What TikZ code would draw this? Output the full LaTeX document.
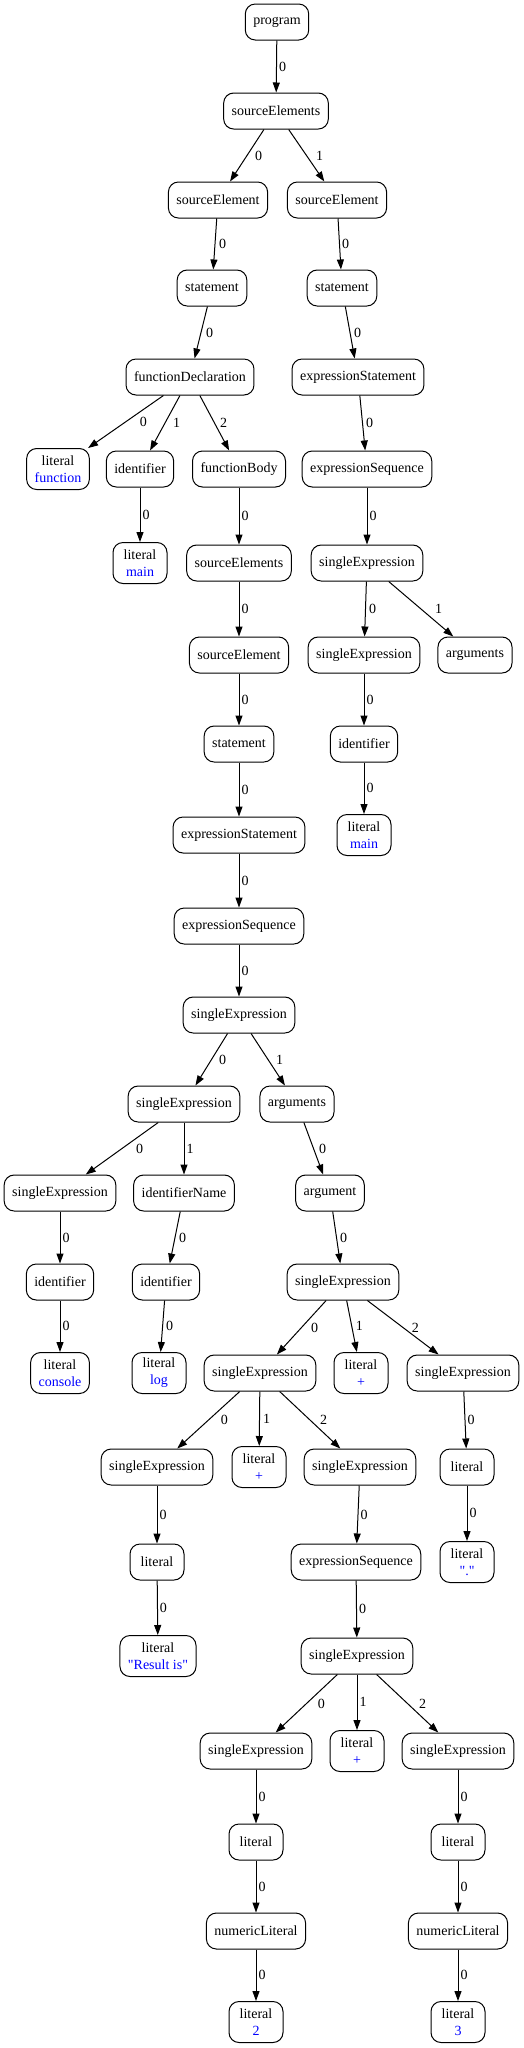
\documentclass[tikz,border=0pt]{standalone}
\usepackage{fontspec}
\setmainfont{Liberation Serif}[Ligatures=TeXOff]
\usetikzlibrary{arrows.meta}
\tikzstyle{RuleNode}=[rectangle, rounded corners=10pt, draw=black, line width=1pt, inner xsep=8pt, inner ysep=3pt, minimum height=36pt, minimum width=54pt, align=center, font=\fontsize{14}{17}\selectfont]
\tikzstyle{LitNode}=[RuleNode, minimum height=41pt]
\tikzstyle{ChildEdge}=[->, line width=1pt]
\tikzset{>={Triangle[length=10pt,width=7pt]}}
\tikzset{EdgeLabel/.style={anchor=west, inner sep=0pt, font=\fontsize{14}{17}\selectfont, xshift=#1}, EdgeLabel/.default=2pt}
\newcommand{\litval}[1]{literal\\\textcolor{blue}{#1}}

\begin{document}
\begin{tikzpicture}[x=1pt, y=-1pt]
\useasboundingbox (0,0) rectangle (523,2048);

\node[RuleNode](P) at (277,22) {program};
\node[RuleNode](SEs) at (276,111) {sourceElements};
\node[RuleNode](SE1) at (218,200) {sourceElement};
\node[RuleNode](SE2) at (337,200) {sourceElement};
\node[RuleNode](St1) at (212,288) {statement};
\node[RuleNode](St2) at (342,288) {statement};
\node[RuleNode](FD) at (190,377) {functionDeclaration};
\node[RuleNode](ES2) at (358,377) {expressionStatement};
\node[LitNode](LitFn) at (58,469) {\litval{function}};
\node[RuleNode](IdMain) at (140,469) {identifier};
\node[RuleNode](FB) at (239,469) {functionBody};
\node[RuleNode](EQ2) at (367,469) {expressionSequence};
\node[LitNode](LitMain1) at (140,563) {\litval{main}};
\node[RuleNode](SEs2) at (239,563) {sourceElements};
\node[RuleNode](SX1) at (367,563) {singleExpression};
\node[RuleNode](SE3) at (239,655) {sourceElement};
\node[RuleNode](SX2) at (364,655) {singleExpression};
\node[RuleNode](Args1) at (475,655) {arguments};
\node[RuleNode](St3) at (239,744) {statement};
\node[RuleNode](IdMain2) at (364,744) {identifier};
\node[RuleNode](ES3) at (239,835) {expressionStatement};
\node[LitNode](LitMain2) at (364,835) {\litval{main}};
\node[RuleNode](EQ3) at (239,926) {expressionSequence};
\node[RuleNode](SX3) at (239,1015) {singleExpression};
\node[RuleNode](SX4) at (184,1104) {singleExpression};
\node[RuleNode](Args2) at (297,1104) {arguments};
\node[RuleNode](SX5) at (60,1193) {singleExpression};
\node[RuleNode](IdName) at (184,1193) {identifierName};
\node[RuleNode](Arg) at (330,1193) {argument};
\node[RuleNode](IdCon) at (60,1282) {identifier};
\node[RuleNode](IdLog) at (166,1282) {identifier};
\node[RuleNode](SX6) at (343,1282) {singleExpression};
\node[LitNode](LitCon) at (60,1373) {\litval{console}};
\node[LitNode](LitLog) at (159,1373) {\litval{log}};
\node[RuleNode](SX7) at (260,1373) {singleExpression};
\node[LitNode](Plus1) at (361,1373) {\litval{+}};
\node[RuleNode](SX8) at (463,1373) {singleExpression};
\node[RuleNode](SX9) at (157,1467) {singleExpression};
\node[LitNode](Plus2) at (259,1467) {\litval{+}};
\node[RuleNode](SX10) at (360,1467) {singleExpression};
\node[RuleNode](LitDot1) at (467,1467) {literal};
\node[RuleNode](LitRes1) at (157,1562) {literal};
\node[RuleNode](EQ4) at (356,1562) {expressionSequence};
\node[LitNode](LitDot2) at (467,1562) {\litval{"."}};
\node[LitNode](LitRes2) at (158,1656) {\litval{"Result is"}};
\node[RuleNode](SX11) at (357,1656) {singleExpression};
\node[RuleNode](SX12) at (256,1751) {singleExpression};
\node[LitNode](Plus3) at (357,1751) {\litval{+}};
\node[RuleNode](SX13) at (458,1751) {singleExpression};
\node[RuleNode](LitTwo1) at (256,1842) {literal};
\node[RuleNode](LitThree1) at (458,1842) {literal};
\node[RuleNode](Num2) at (256,1931) {numericLiteral};
\node[RuleNode](Num3) at (458,1931) {numericLiteral};
\node[LitNode](LitTwo2) at (256,2022) {\litval{2}};
\node[LitNode](LitThree2) at (458,2022) {\litval{3}};

\draw[ChildEdge](P) -- node[EdgeLabel]{0} (SEs);
\draw[ChildEdge](SEs) -- node[EdgeLabel=7.5pt]{0} (SE1);
\draw[ChildEdge](SEs) -- node[EdgeLabel=9pt]{1} (SE2);
\draw[ChildEdge](SE1) -- node[EdgeLabel=3.5pt]{0} (St1);
\draw[ChildEdge](SE2) -- node[EdgeLabel]{0} (St2);
\draw[ChildEdge](St1) -- node[EdgeLabel=4.5pt]{0} (FD);
\draw[ChildEdge](St2) -- node[EdgeLabel=3.5pt]{0} (ES2);
\draw[ChildEdge](FD) -- node[EdgeLabel=13.5pt]{0} (LitFn);
\draw[ChildEdge](FD) -- node[EdgeLabel=7.5pt]{1} (IdMain);
\draw[ChildEdge](FD) -- node[EdgeLabel=5pt]{2} (FB);
\draw[ChildEdge](ES2) -- node[EdgeLabel=3pt]{0} (EQ2);
\draw[ChildEdge](IdMain) -- node[EdgeLabel]{0} (LitMain1);
\draw[ChildEdge](FB) -- node[EdgeLabel]{0} (SEs2);
\draw[ChildEdge](EQ2) -- node[EdgeLabel]{0} (SX1);
\draw[ChildEdge](SEs2) -- node[EdgeLabel]{0} (SE3);
\draw[ChildEdge](SX1) -- node[EdgeLabel=3pt]{0} (SX2);
\draw[ChildEdge](SX1) -- node[EdgeLabel=13.5pt]{1} (Args1);
\draw[ChildEdge](SE3) -- node[EdgeLabel]{0} (St3);
\draw[ChildEdge](SX2) -- node[EdgeLabel]{0} (IdMain2);
\draw[ChildEdge](St3) -- node[EdgeLabel]{0} (ES3);
\draw[ChildEdge](IdMain2) -- node[EdgeLabel]{0} (LitMain2);
\draw[ChildEdge](ES3) -- node[EdgeLabel]{0} (EQ3);
\draw[ChildEdge](EQ3) -- node[EdgeLabel]{0} (SX3);
\draw[ChildEdge](SX3) -- node[EdgeLabel=7pt]{0} (SX4);
\draw[ChildEdge](SX3) -- node[EdgeLabel=7.5pt]{1} (Args2);
\draw[ChildEdge](SX4) -- node[EdgeLabel=13.5pt]{0} (SX5);
\draw[ChildEdge](SX4) -- node[EdgeLabel]{1} (IdName);
\draw[ChildEdge](Args2) -- node[EdgeLabel=5pt]{0} (Arg);
\draw[ChildEdge](SX5) -- node[EdgeLabel]{0} (IdCon);
\draw[ChildEdge](IdName) -- node[EdgeLabel=3.5pt]{0} (IdLog);
\draw[ChildEdge](Arg) -- node[EdgeLabel=3pt]{0} (SX6);
\draw[ChildEdge](IdCon) -- node[EdgeLabel]{0} (LitCon);
\draw[ChildEdge](IdLog) -- node[EdgeLabel=3pt]{0} (LitLog);
\draw[ChildEdge](SX6) -- node[EdgeLabel=9pt]{0} (SX7);
\draw[ChildEdge](SX6) -- node[EdgeLabel=3.5pt]{1} (Plus1);
\draw[ChildEdge](SX6) -- node[EdgeLabel=8.5pt]{2} (SX8);
\draw[ChildEdge](SX7) -- node[EdgeLabel=12pt]{0} (SX9);
\draw[ChildEdge](SX7) -- node[EdgeLabel=3pt]{1} (Plus2);
\draw[ChildEdge](SX7) -- node[EdgeLabel=9.5pt]{2} (SX10);
\draw[ChildEdge](SX8) -- node[EdgeLabel]{0} (LitDot1);
\draw[ChildEdge](SX9) -- node[EdgeLabel]{0} (LitRes1);
\draw[ChildEdge](SX10) -- node[EdgeLabel]{0} (EQ4);
\draw[ChildEdge](LitDot1) -- node[EdgeLabel]{0} (LitDot2);
\draw[ChildEdge](LitRes1) -- node[EdgeLabel]{0} (LitRes2);
\draw[ChildEdge](EQ4) -- node[EdgeLabel]{0} (SX11);
\draw[ChildEdge](SX11) -- node[EdgeLabel=11pt]{0} (SX12);
\draw[ChildEdge](SX11) -- node[EdgeLabel]{1} (Plus3);
\draw[ChildEdge](SX11) -- node[EdgeLabel=11pt]{2} (SX13);
\draw[ChildEdge](SX12) -- node[EdgeLabel]{0} (LitTwo1);
\draw[ChildEdge](SX13) -- node[EdgeLabel]{0} (LitThree1);
\draw[ChildEdge](LitTwo1) -- node[EdgeLabel]{0} (Num2);
\draw[ChildEdge](LitThree1) -- node[EdgeLabel]{0} (Num3);
\draw[ChildEdge](Num2) -- node[EdgeLabel]{0} (LitTwo2);
\draw[ChildEdge](Num3) -- node[EdgeLabel]{0} (LitThree2);
\end{tikzpicture}
\end{document}
